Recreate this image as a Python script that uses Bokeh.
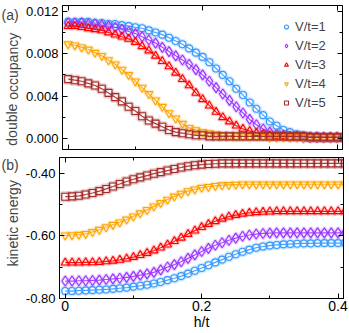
from bokeh.plotting import figure
from bokeh.layouts import column, row
from bokeh.models import (Range1d, LinearAxis, FixedTicker, PrintfTickFormatter,
                          Label, Legend, LegendItem, ColumnDataSource,
                          CustomLabelingPolicy)
from bokeh.embed import file_html
from bokeh.resources import INLINE

# ---------------- data ----------------
h = [0.00, 0.01, 0.02, 0.03, 0.04, 0.05, 0.06, 0.07, 0.08, 0.09,
     0.10, 0.11, 0.12, 0.13, 0.14, 0.15, 0.16, 0.17, 0.18, 0.19,
     0.20, 0.21, 0.22, 0.23, 0.24, 0.25, 0.26, 0.27, 0.28, 0.29,
     0.30, 0.31, 0.32, 0.33, 0.34, 0.35, 0.36, 0.37, 0.38, 0.39,
     0.40, 0.41]

series_names = ["V/t=1", "V/t=2", "V/t=3", "V/t=4", "V/t=5"]

dbl_v1 = [0.0110, 0.0110, 0.0110, 0.0110, 0.0109, 0.0109, 0.0108, 0.0108, 0.0107, 0.0106,
          0.0105, 0.0104, 0.0102, 0.0100, 0.0098, 0.0095, 0.0092, 0.0089, 0.0085, 0.0081,
          0.0077, 0.0072, 0.0066, 0.0060, 0.0054, 0.0047, 0.0041, 0.0034, 0.0028, 0.0022,
          0.0016, 0.0012, 0.0008, 0.0006, 0.0004, 0.0003, 0.0002, 0.0002, 0.0001, 0.0001,
          0.0001, 0.0001]
dbl_v2 = [0.0109, 0.0109, 0.0109, 0.0108, 0.0108, 0.0107, 0.0106, 0.0105, 0.0103, 0.0101,
          0.0099, 0.0096, 0.0093, 0.0090, 0.0086, 0.0082, 0.0078, 0.0074, 0.0070, 0.0065,
          0.0060, 0.0054, 0.0048, 0.0042, 0.0036, 0.0030, 0.0024, 0.0018, 0.0013, 0.0009,
          0.0006, 0.0004, 0.0003, 0.0002, 0.0002, 0.0001, 0.0001, 0.0001, 0.0001, 0.0001,
          0.0001, 0.0001]
dbl_v3 = [0.0106, 0.0106, 0.0105, 0.0104, 0.0103, 0.0102, 0.0100, 0.0098, 0.0096, 0.0094,
          0.0091, 0.0087, 0.0083, 0.0078, 0.0073, 0.0068, 0.0062, 0.0056, 0.0050, 0.0043,
          0.0037, 0.0031, 0.0025, 0.0020, 0.0016, 0.0012, 0.0009, 0.0007, 0.0005, 0.0004,
          0.0003, 0.0002, 0.0002, 0.0001, 0.0001, 0.0001, 0.0001, 0.0001, 0.0001, 0.0001,
          0.0001, 0.0001]
dbl_v4 = [0.0089, 0.0088, 0.0086, 0.0084, 0.0081, 0.0078, 0.0074, 0.0070, 0.0065, 0.0060,
          0.0054, 0.0048, 0.0042, 0.0036, 0.0030, 0.0024, 0.0019, 0.0014, 0.0010, 0.0008,
          0.0006, 0.0005, 0.0004, 0.0003, 0.0003, 0.0002, 0.0002, 0.0002, 0.0002, 0.0002,
          0.0001, 0.0001, 0.0001, 0.0001, 0.0001, 0.0001, 0.0001, 0.0001, 0.0001, 0.0001,
          0.0001, 0.0001]
dbl_v5 = [0.0056, 0.0055, 0.0054, 0.0052, 0.0050, 0.0047, 0.0043, 0.0039, 0.0035, 0.0030,
          0.0026, 0.0021, 0.0017, 0.0014, 0.0011, 0.0008, 0.0006, 0.0005, 0.0004, 0.0003,
          0.0003, 0.0002, 0.0002, 0.0002, 0.0002, 0.0002, 0.0002, 0.0002, 0.0002, 0.0002,
          0.0002, 0.0002, 0.0002, 0.0002, 0.0002, 0.0002, 0.0001, 0.0001, 0.0001, 0.0001,
          0.0001, 0.0001]

kin_v1 = [-0.777, -0.777, -0.776, -0.775, -0.774, -0.773, -0.772, -0.770, -0.768, -0.766,
          -0.763, -0.760, -0.757, -0.753, -0.748, -0.742, -0.736, -0.729, -0.721, -0.712,
          -0.703, -0.694, -0.685, -0.676, -0.667, -0.659, -0.651, -0.644, -0.638, -0.634,
          -0.631, -0.629, -0.627, -0.626, -0.625, -0.624, -0.624, -0.623, -0.623, -0.623,
          -0.623, -0.623]
kin_v2 = [-0.745, -0.745, -0.744, -0.744, -0.743, -0.742, -0.740, -0.738, -0.736, -0.733,
          -0.730, -0.726, -0.722, -0.717, -0.709, -0.700, -0.692, -0.683, -0.672, -0.661,
          -0.650, -0.640, -0.630, -0.622, -0.614, -0.607, -0.601, -0.597, -0.594, -0.592,
          -0.591, -0.590, -0.590, -0.590, -0.590, -0.590, -0.590, -0.590, -0.590, -0.590,
          -0.590, -0.590]
kin_v3 = [-0.686, -0.686, -0.686, -0.685, -0.685, -0.684, -0.682, -0.680, -0.677, -0.673,
          -0.668, -0.662, -0.655, -0.647, -0.638, -0.628, -0.617, -0.606, -0.594, -0.583,
          -0.572, -0.562, -0.553, -0.545, -0.538, -0.533, -0.529, -0.526, -0.524, -0.523,
          -0.522, -0.521, -0.521, -0.521, -0.521, -0.521, -0.521, -0.521, -0.521, -0.521,
          -0.521, -0.521]
kin_v4 = [-0.598, -0.597, -0.596, -0.593, -0.587, -0.580, -0.572, -0.564, -0.556, -0.547,
          -0.537, -0.527, -0.516, -0.505, -0.494, -0.483, -0.473, -0.464, -0.456, -0.450,
          -0.445, -0.442, -0.439, -0.437, -0.436, -0.435, -0.434, -0.434, -0.434, -0.434,
          -0.434, -0.434, -0.434, -0.434, -0.434, -0.434, -0.434, -0.434, -0.434, -0.434,
          -0.434, -0.434]
kin_v5 = [-0.474, -0.473, -0.471, -0.467, -0.462, -0.456, -0.449, -0.441, -0.433, -0.425,
          -0.418, -0.412, -0.406, -0.400, -0.395, -0.390, -0.385, -0.380, -0.376, -0.373,
          -0.371, -0.369, -0.368, -0.367, -0.367, -0.367, -0.367, -0.367, -0.367, -0.367,
          -0.367, -0.367, -0.367, -0.367, -0.367, -0.367, -0.367, -0.367, -0.367, -0.367,
          -0.367, -0.367]

dbl_ticks = [0.000, 0.004, 0.008, 0.012]
dbl_minor = [0.002, 0.006, 0.010]
kin_ticks = [-0.80, -0.60, -0.40]
kin_minor = [-0.70, -0.50]
h_ticks = [0.0, 0.2, 0.4]
h_minor = [0.1, 0.3]

# ---------------- style ----------------
colors = ["#3399FF", "#9933FF", "#FF0000", "#FFA500", "#A52A2A"]
markers = ["circle", "diamond", "triangle", "inverted_triangle", "square"]
msizes = [7, 10, 8, 8, 7]
FONT = "Liberation Sans"
WA = 22          # width of the side strip holding panel tags / y titles
WP = 326         # width of each plot
LEFT = 36
RIGHT = 3
H1, H2 = 153, 180
XR = (-0.0084, 0.408)


def no_labels():
    return CustomLabelingPolicy(code="""
        for (const i of indices) indices.unset(i)
        return indices
    """)


def style_axes(p, yticks, yminor, yfmt):
    for ax in p.axis:
        ax.axis_line_color = "black"
        ax.axis_line_width = 1
        ax.major_tick_in = 5
        ax.major_tick_out = 0
        ax.minor_tick_in = 3
        ax.minor_tick_out = 0
        ax.major_tick_line_color = "black"
        ax.minor_tick_line_color = "black"
        ax.major_label_text_font = FONT
        ax.major_label_text_color = "black"
        ax.axis_label_text_font = FONT
        ax.axis_label_text_font_size = "14px"
        ax.axis_label_text_font_style = "normal"
        ax.axis_label_text_color = "black"
    for ax in p.xaxis:
        ax.ticker = FixedTicker(ticks=h_ticks, minor_ticks=h_minor)
        ax.major_label_overrides = {0: "0"}
        ax.major_label_text_font_size = "14px"
        ax.major_label_standoff = 2
    for ax in p.yaxis:
        ax.ticker = FixedTicker(ticks=yticks, minor_ticks=yminor)
        ax.formatter = PrintfTickFormatter(format=yfmt)
        ax.major_label_text_font_size = "13px"
        ax.major_label_standoff = 4
    p.outline_line_color = "black"
    p.outline_line_width = 1
    p.xgrid.visible = False
    p.ygrid.visible = False


def add_mirror(p):
    top = LinearAxis()
    right = LinearAxis()
    p.add_layout(top, "above")
    p.add_layout(right, "right")
    return [top, right]


def hide_labels(axes):
    for ax in axes:
        ax.major_label_policy = no_labels()
        ax.major_label_text_font_size = "1px"
        ax.major_label_standoff = 0
        ax.axis_label_standoff = 0


def add_series(p, ys_list):
    items = []
    for name, ys, c, m, s in zip(series_names, ys_list, colors, markers, msizes):
        src = ColumnDataSource(dict(x=h, y=ys))
        p.line("x", "y", source=src, line_color=c, line_width=1.2, line_alpha=0.9)
        p.scatter("x", "y", source=src, marker=m, size=s + 1, fill_color=None,
                  line_color=c, line_width=3, line_alpha=0.22)
        r = p.scatter("x", "y", source=src, marker=m, size=s, fill_color=None,
                      line_color=c, line_width=1.1)
        items.append(LegendItem(label=name, renderers=[r]))
    return items


def side_strip(height, tag, tag_y, title, title_y):
    s = figure(width=WA, height=height, output_backend="svg", toolbar_location=None,
               x_range=Range1d(0, WA), y_range=Range1d(0, height),
               x_axis_location=None, y_axis_location=None,
               min_border=0, min_border_left=0, min_border_right=0,
               min_border_top=0, min_border_bottom=0)
    s.outline_line_color = None
    s.xgrid.visible = False
    s.ygrid.visible = False
    s.add_layout(Label(x=1, y=tag_y, text=tag, text_font=FONT,
                       text_font_size="14px", text_align="left",
                       text_baseline="middle"))
    s.add_layout(Label(x=12, y=title_y, text=title, angle=1.5707963,
                       text_font=FONT, text_font_size="14px",
                       text_align="center", text_baseline="middle"))
    return s


# ---------------- top panel ----------------
p1 = figure(width=WP, height=H1, output_backend="svg", toolbar_location=None,
            x_range=Range1d(*XR), y_range=Range1d(-0.00104, 0.01255),
            min_border_left=LEFT, min_border_right=RIGHT, min_border_top=5,
            min_border_bottom=2)
mir1 = add_mirror(p1)
items = add_series(p1, [dbl_v1, dbl_v2, dbl_v3, dbl_v4, dbl_v5])
style_axes(p1, dbl_ticks, dbl_minor, "%.3f")
hide_labels(mir1 + list(p1.below))

leg = Legend(items=items, location=(219, 38), border_line_color=None,
             background_fill_alpha=0, label_text_font=FONT,
             label_text_font_size="13px", glyph_width=10, glyph_height=17,
             label_height=17, spacing=2, padding=2, margin=0, label_standoff=4)
p1.add_layout(leg, "center")

s1 = side_strip(H1, "(a)", 143, "double occupancy", 64)

# ---------------- bottom panel ----------------
p2 = figure(width=WP, height=H2, output_backend="svg", toolbar_location=None,
            x_range=p1.x_range, y_range=Range1d(-0.801, -0.348),
            min_border_left=LEFT, min_border_right=RIGHT, min_border_top=2,
            min_border_bottom=35)
mir2 = add_mirror(p2)
add_series(p2, [kin_v1, kin_v2, kin_v3, kin_v4, kin_v5])
style_axes(p2, kin_ticks, kin_minor, "%.2f")
p2.below[0].axis_label = "h/t"
p2.below[0].axis_label_standoff = 0
hide_labels(mir2)

s2 = side_strip(H2, "(b)", 170, "kinetic energy", 96)

layout = column(row(s1, p1, spacing=0), row(s2, p2, spacing=0), spacing=0)
open("out.html", "w").write(file_html(layout, INLINE))
